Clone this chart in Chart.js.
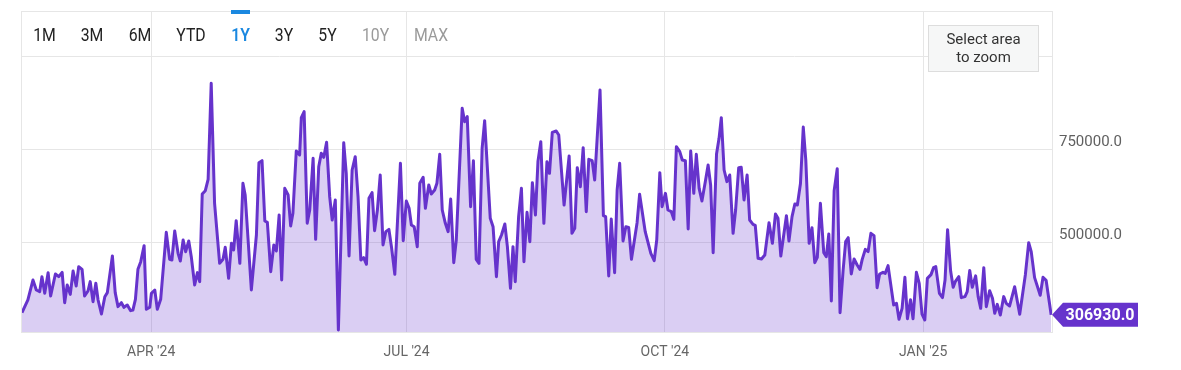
<!DOCTYPE html>
<html>
<head>
<meta charset="utf-8">
<script src="https://cdn.jsdelivr.net/npm/chart.js@4/dist/chart.umd.min.js"></script>
<style>
html,body{margin:0;padding:0;background:#fff;}
canvas{display:block;}
</style>
</head>
<body>
<canvas id="c" width="1181" height="370"></canvas>
<script>
// Day offsets from 15 Feb 2024
const dayIndex = [0,2.1,3.9,5.1,6.3,7.1,8.1,9.3,10.2,11.9,13.1,14.3,15.2,16.1,17.2,18.2,19.3,20.2,21.4,22.3,23.5,24.3,25.3,26.3,27.1,28.3,29.5,30.4,32.2,33.2,34.2,35.4,36.3,37.5,38.7,39.5,40.4,41.3,42.3,43.5,44.3,45.5,
46.1,47.3,48.2,49.4,51.4,52.6,53.4,54.4,55.6,56.4,57.4,58.3,59.4,60.3,61.5,62.5,63.3,64.2,65.3,66.3,67.4,68.6,70.4,71.6,72.4,73.6,74.6,75.4,76.3,77.6,78.7,79.5,81.7,83.5,84.4,85.5,86.5,87.4,88.6,89.7,90.6,91.6,
92.5,93.6,94.8,95.7,96.5,97.7,98.9,99.5,100.5,101.6,102.5,103.7,104.6,105.7,106.6,107.5,108.5,109.6,110.5,111.6,112.7,114.6,115.5,116.5,117.6,118.7,119.7,120.7,121.7,122.7,123.6,124.7,125.6,126.6,127.6,128.6,129.6,130.7,131.6,132.8,134.8,135.8,136.9,
137.9,138.7,139.7,140.8,141.7,142.9,143.7,144.9,145.8,147.0,147.8,148.8,149.7,150.8,151.8,152.7,153.8,154.7,156.8,157.7,158.6,159.8,160.8,161.8,162.8,163.9,164.8,166.8,167.8,169.0,169.8,170.8,172.0,172.9,174.0,174.9,175.7,176.9,177.9,178.8,179.9,180.9,181.8,182.9,
183.8,184.8,185.9,187.0,187.9,188.9,190.3,191.2,193.1,194.9,195.9,196.9,197.8,198.9,199.9,201.0,201.9,203.1,204.0,205.9,207.1,207.9,209.0,209.9,211.1,212.0,212.9,214.1,215.1,216.1,217.1,219.1,220.0,222.0,224.0,225.2,226.1,227.2,228.0,229.2,
230.1,231.3,232.2,233.1,234.3,235.2,236.3,237.3,238.2,239.3,240.2,241.2,242.2,243.4,244.4,245.3,246.2,247.4,248.3,249.1,250.1,251.1,252.1,253.3,254.2,255.3,256.2,257.2,258.3,259.2,260.4,261.2,262.2,263.4,264.6,266.1,267.3,268.4,269.3,270.3,272.3,273.2,274.3,275.3,276.2,
277.3,278.3,279.2,280.4,281.4,282.4,283.3,284.4,285.6,286.5,287.4,288.3,289.3,290.4,291.4,292.5,293.4,294.3,295.4,296.4,297.5,298.5,299.3,300.4,301.4,302.4,303.5,304.6,305.5,306.7,307.5,308.5,310.5,311.5,312.4,313.5,314.5,315.4,316.5,317.4,318.6,319.6,320.6,
321.6,322.5,323.8,324.7,325.5,326.8,327.9,328.8,329.7,330.8,331.7,332.5,333.7,334.6,335.9,336.7,337.6,338.5,339.7,340.6,341.5,342.6,343.5,344.7,345.7,346.5,347.4,348.5,349.7,350.6,351.8,353.6,355.4,357.4,358.6,359.5,360.7,362.7,363.7,364.8,366.0,366.6];

const volume = [312700,346800,400500,373700,369200,409500,364700,420300,357500,416700,409500,421200,339600,387100,362000,424700,384400,436400,429200,357500,371000,396100,342300,391600,346800,309100,355700,366500,465100,366500,328900,339600,327100,333400,318100,319800,348600,429200,449800,492800,321700,327100,
365000,373700,321700,348600,528700,456100,454300,532300,472200,451600,508100,476700,505400,463300,387100,420300,396100,631700,640700,671100,929200,606600,445300,456100,488400,405000,499100,481200,560000,445300,660400,629000,373700,521500,715900,721300,559100,555600,422900,494600,478500,575300,
400500,646900,629000,545700,579700,747300,736500,836900,853000,552900,588700,727600,509800,705200,741000,730300,770600,624500,561800,615600,266100,769700,687300,465100,696200,732100,624500,454300,460600,442700,620100,635300,533200,588700,682800,494600,530500,536700,490100,415800,714100,506300,612900,
593200,548400,543900,490100,660400,676500,593200,655900,631700,642500,660400,738300,588700,552900,530500,618300,447100,508100,862000,826100,839600,597700,721300,456100,445300,754500,828800,566300,543900,409500,503600,521500,551100,490100,378100,490100,396100,570800,646900,449800,582400,503600,662200,575300,
720000,772400,552900,718600,687300,797500,801100,790300,602100,733900,526000,539400,702500,651400,756300,584200,724900,721300,669300,911300,573500,570800,411300,564500,420300,642500,714100,505400,543900,542100,456100,554700,630800,530500,472200,452500,508100,689100,597700,633500,
588700,584200,563600,758900,745500,723100,721300,537600,747300,633500,738300,646900,612900,664900,709700,655900,474000,739200,781300,836900,696200,664900,682800,526000,588700,702500,703400,615600,682800,561800,550200,547500,458800,457000,467700,554700,499100,577900,566300,464900,573500,505400,570800,604800,602100,
660000,811800,723100,499100,541200,447100,461500,606600,474000,463300,524200,344100,640700,699800,312700,427400,503600,514300,416700,457000,440900,429200,456100,483000,477000,526000,519700,380000,416700,421200,418500,439100,333400,337800,294800,324400,407700,296500,347600,296500,421200,391600,309100,
293000,405000,415000,433700,436400,364700,353100,400500,535700,424000,381000,397100,409500,353100,355900,369200,426100,381000,411600,355900,324400,433700,328900,371900,351300,310900,335100,306500,355900,337800,330700,382600,308300,414000,500900,476700,406900,359500,407800,399700,337800,306930];

const monthTickDays = [46, 137, 229, 321];
const monthLabels = ["APR '24", "JUL '24", "OCT '24", "JAN '25"];
const yTickValues = [500000, 750000, 1000000];
const rangeButtons = ["1M", "3M", "6M", "YTD", "1Y", "3Y", "5Y", "10Y", "MAX"];
const lastValueText = "306930.0";

const LINE = '#6633cc';
const GRID = '#e6e6e6';

const overlayPlugin = {
  id: 'overlay',
  beforeDraw(chart) {
    const {ctx} = chart;
    ctx.save();
    ctx.fillStyle = '#fff';
    ctx.fillRect(0, 0, chart.width, chart.height);
    ctx.restore();
  },
  afterDraw(chart) {
    const {ctx, chartArea: a} = chart;
    ctx.save();
    // plot border
    ctx.strokeStyle = GRID;
    ctx.lineWidth = 1;
    ctx.strokeRect(a.left - 0.5, a.top + 0.5, a.right - a.left + 1, a.bottom - a.top);

    // range selector buttons
    const centers = [44.5, 92, 140, 191, 240.5, 284, 327.5, 375.5, 431];
    rangeButtons.forEach((t, i) => {
      ctx.save();
      let color = '#222';
      let weight = '400';
      if (t === '1Y') { color = '#1a88e0'; weight = '600'; }
      if (t === '10Y' || t === 'MAX') color = '#9a9a9a';
      ctx.font = weight + ' 19px Roboto';
      ctx.fillStyle = color;
      ctx.textAlign = 'center';
      ctx.textBaseline = 'alphabetic';
      ctx.translate(centers[i], 40.5);
      ctx.scale(0.83, 1);
      ctx.fillText(t, 0, 0);
      ctx.restore();
    });
    ctx.fillStyle = '#1a88e0';
    ctx.fillRect(231, 10, 19, 4);

    // select area to zoom box
    ctx.fillStyle = '#f6f7f7';
    ctx.fillRect(928, 25, 111, 47);
    ctx.strokeStyle = '#dddddd';
    ctx.strokeRect(928.5, 25.5, 110, 46);
    ctx.fillStyle = '#333';
    ctx.font = '15px Roboto';
    ctx.textAlign = 'center';
    ctx.textBaseline = 'middle';
    ctx.fillText('Select area', 983.5, 40.5);
    ctx.fillText('to zoom', 983.5, 58);

    // last value label
    const ys = chart.scales.y;
    const yv = ys.getPixelForValue(volume[volume.length - 1]);
    const x0 = a.right;
    ctx.fillStyle = LINE;
    ctx.beginPath();
    ctx.moveTo(x0, yv);
    ctx.lineTo(x0 + 11, yv - 12);
    ctx.lineTo(1138, yv - 12);
    ctx.lineTo(1138, yv + 12);
    ctx.lineTo(x0 + 11, yv + 12);
    ctx.closePath();
    ctx.fill();
    ctx.fillStyle = '#fff';
    ctx.font = 'bold 16px Roboto';
    ctx.textAlign = 'center';
    ctx.textBaseline = 'middle';
    ctx.fillText(lastValueText, 1100, yv + 1);
    ctx.restore();
  }
};

new Chart(document.getElementById('c'), {
  type: 'line',
  data: {
    datasets: [{
      data: dayIndex.map((d, i) => ({x: d, y: volume[i]})),
      borderColor: LINE,
      borderWidth: 3,
      backgroundColor: 'rgba(102,51,204,0.24)',
      fill: 'start',
      pointRadius: 0,
      tension: 0,
      borderJoinStyle: 'round'
    }]
  },
  options: {
    responsive: false,
    animation: false,
    devicePixelRatio: 1,
    layout: {padding: {left: 22, top: 11, right: 0, bottom: 0}},
    plugins: {legend: {display: false}, tooltip: {enabled: false}},
    scales: {
      x: {
        type: 'linear',
        min: 0,
        max: 366.9,
        afterBuildTicks: s => { s.ticks = monthTickDays.map(v => ({value: v})); },
        afterFit: s => { s.height = 38; s.paddingLeft = 0; s.paddingRight = 0; },
        ticks: {
          autoSkip: false,
          maxRotation: 0,
          padding: 12,
          color: '#666',
          font: {family: 'Roboto', size: 14},
          callback: (v, i) => monthLabels[i]
        },
        grid: {color: GRID, drawTicks: false, lineWidth: 1},
        border: {color: GRID}
      },
      y: {
        position: 'right',
        min: 260750,
        max: 1123650,
        afterBuildTicks: s => { s.ticks = yTickValues.map(v => ({value: v})); },
        afterFit: s => { s.width = 129; s.paddingTop = 0; s.paddingBottom = 0; },
        ticks: {
          padding: 7,
          labelOffset: -8,
          color: '#606060',
          font: {family: 'Roboto', size: 15},
          callback: v => (v >= 1000000 ? '' : Number(v).toFixed(1))
        },
        grid: {color: GRID, drawTicks: false, lineWidth: 1},
        border: {color: GRID}
      }
    }
  },
  plugins: [overlayPlugin]
});
</script>
</body>
</html>
